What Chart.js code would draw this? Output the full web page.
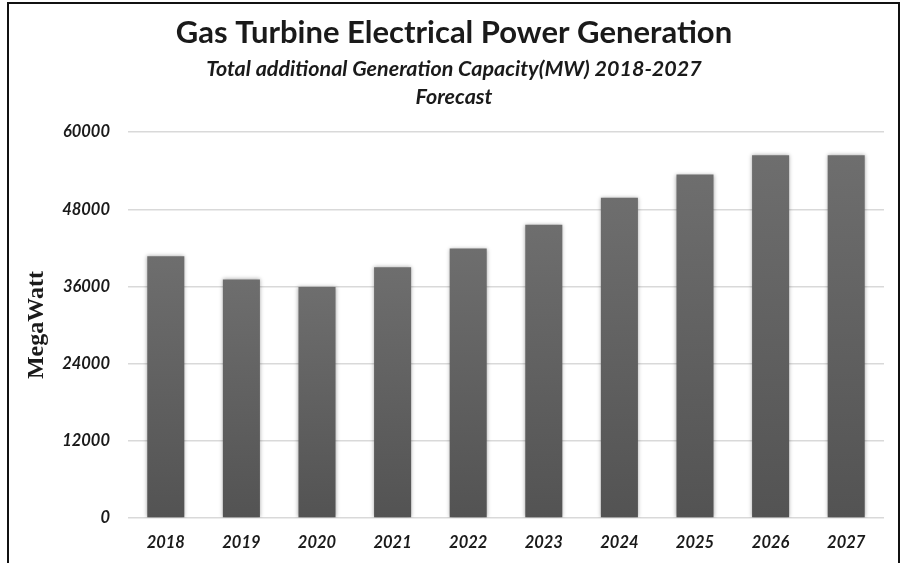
<!DOCTYPE html>
<html>
<head>
<meta charset="utf-8">
<script src="https://cdn.jsdelivr.net/npm/chart.js@4"></script>
<style>
  html, body { margin: 0; padding: 0; background: #fff; }
  #wrap { position: relative; width: 901px; height: 563px; overflow: hidden; }
  #frame {
    position: absolute; left: 7px; top: 2px; width: 889px; height: 600px;
    border: 2px solid #111; border-bottom: none; pointer-events: none;
  }
  canvas { position: absolute; left: 0; top: 0; }
</style>
</head>
<body>
<div id="wrap">
  <canvas id="chart" width="901" height="563"></canvas>
  <div id="frame"></div>
</div>
<script>
const years = ['2018', '2019', '2020', '2021', '2022', '2023', '2024', '2025', '2026', '2027'];
const megawatts = [40700, 37100, 35900, 39000, 41900, 45600, 49800, 53400, 56400, 56400];
const yTicks = [0, 12000, 24000, 36000, 48000, 60000];

// bar fill runs from lighter grey at the top to darker grey at the base
function barFill(context) {
  const chart = context.chart;
  const area = chart.chartArea;
  if (!area || context.raw === undefined) return '#606060';
  const y = chart.scales.y;
  const top = y.getPixelForValue(context.raw);
  const base = y.getPixelForValue(0);
  const g = chart.ctx.createLinearGradient(0, top, 0, base);
  g.addColorStop(0, '#6e6e6e');
  g.addColorStop(1, '#535353');
  return g;
}

// soft shadow round the bars
const barShadow = {
  id: 'barShadow',
  beforeDatasetsDraw(chart) {
    const ctx = chart.ctx;
    ctx.save();
    ctx.shadowColor = 'rgba(0,0,0,0.35)';
    ctx.shadowBlur = 4;
  },
  afterDatasetsDraw(chart) {
    chart.ctx.restore();
  }
};

const tickFont = { family: 'Lato', size: 16.5, weight: 'bold', style: 'italic' };

new Chart(document.getElementById('chart'), {
  type: 'bar',
  data: {
    labels: years,
    datasets: [{
      data: megawatts,
      backgroundColor: barFill,
      borderWidth: 0,
      barPercentage: 0.49,
      categoryPercentage: 1
    }]
  },
  options: {
    responsive: false,
    animation: false,
    layout: { padding: { left: 24, right: 17, top: 0, bottom: 0 } },
    plugins: {
      legend: { display: false },
      tooltip: { enabled: false },
      title: {
        display: true,
        text: 'Gas Turbine Electrical Power Generation',
        color: '#1a1a1a',
        font: { family: 'Lato', size: 31, weight: 'bold' },
        padding: { top: 14, bottom: 0 }
      },
      subtitle: {
        display: true,
        text: ['Total additional Generation Capacity(MW) 2018-2027', 'Forecast'],
        color: '#1a1a1a',
        font: { family: 'Lato', size: 21.5, weight: 'bold', style: 'italic', lineHeight: 1.3 },
        padding: { top: 4, bottom: 21 }
      }
    },
    scales: {
      x: {
        afterFit(scale) {
          scale.height = 45;
        },
        grid: { display: false, drawTicks: false },
        border: { display: false },
        ticks: { color: '#1a1a1a', font: tickFont, padding: 15 }
      },
      y: {
        min: 0,
        max: 60000,
        afterBuildTicks(scale) {
          scale.ticks = yTicks.map(v => ({ value: v }));
        },
        afterFit(scale) {
          scale.width = 104;
        },
        grid: { color: '#d9d9d9', lineWidth: 1.5, drawTicks: false },
        border: { display: false },
        ticks: {
          color: '#1a1a1a',
          font: tickFont,
          padding: 18,
          callback: v => String(v)
        },
        title: {
          display: true,
          text: 'MegaWatt',
          color: '#1a1a1a',
          font: { family: 'Liberation Serif', size: 24, weight: 'bold' },
          padding: { top: -2, bottom: 0 }
        }
      }
    }
  },
  plugins: [barShadow]
});
</script>
</body>
</html>
